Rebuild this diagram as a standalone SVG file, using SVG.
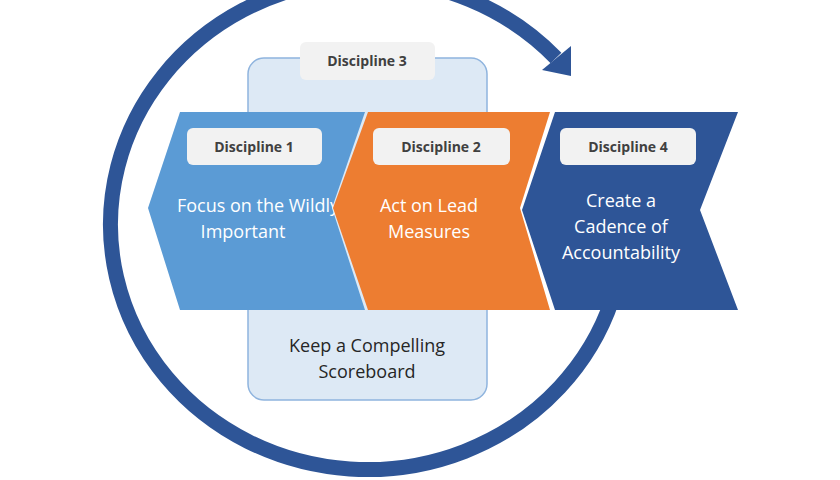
<svg xmlns="http://www.w3.org/2000/svg" width="840" height="480" viewBox="0 0 840 480">
<style>
.lbl{font-family:"Open Sans","Liberation Sans",sans-serif;font-size:14px;font-weight:bold;fill:#404040;text-anchor:middle}
.big{font-family:"Open Sans","Liberation Sans",sans-serif;font-size:18px;fill:#fff;text-anchor:middle}
.tag{fill:#f2f2f2}
</style>
<rect width="840" height="480" fill="#fff"/>
<g id="connectors">
<path d="M 612 300 A 257 245 0 1 1 556 58" fill="none" stroke="#2e5597" stroke-width="15"/>
<polygon points="542,70 571,46 571,76" fill="#2e5597"/>
</g>
<g id="d3">
<rect x="248" y="58" width="239" height="342" rx="16" fill="#dde9f5" stroke="#8fb4de" stroke-width="1.5"/>
<rect class="tag" x="300" y="42" width="135" height="38" rx="6"/>
<text class="lbl" x="367" y="66">Discipline 3</text>
<text x="367" y="352" font-family="Open Sans, Liberation Sans, sans-serif" font-size="18" fill="#262626" text-anchor="middle">Keep a Compelling</text>
<text x="367" y="378" font-family="Open Sans, Liberation Sans, sans-serif" font-size="18" fill="#262626" text-anchor="middle">Scoreboard</text>
</g>
<g id="d1">
<polygon points="180,112 365,112 332,208 365,310 180,310 148,208" fill="#5b9bd5"/>
<rect class="tag" x="187" y="128" width="135" height="37" rx="6"/>
<text class="lbl" x="254" y="152">Discipline 1</text>
<text class="big" x="258" y="212">Focus on the Wildly</text>
<text class="big" x="243" y="238">Important</text>
</g>
<g id="d2">
<polygon points="368,112 550,112 520,208 550,310 368,310 333,208" fill="#ed7d31"/>
<rect class="tag" x="373" y="128" width="137" height="37" rx="6"/>
<text class="lbl" x="441" y="152">Discipline 2</text>
<text class="big" x="429" y="212">Act on Lead</text>
<text class="big" x="429" y="238">Measures</text>
</g>
<g id="d4">
<polygon points="555,112 738,112 700,210 738,310 555,310 522,210" fill="#2e5597"/>
<rect class="tag" x="560" y="128" width="136" height="37" rx="6"/>
<text class="lbl" x="628" y="152">Discipline 4</text>
<text class="big" x="621" y="207">Create a</text>
<text class="big" x="621" y="233">Cadence of</text>
<text class="big" x="621" y="259">Accountability</text>
</g>
</svg>
